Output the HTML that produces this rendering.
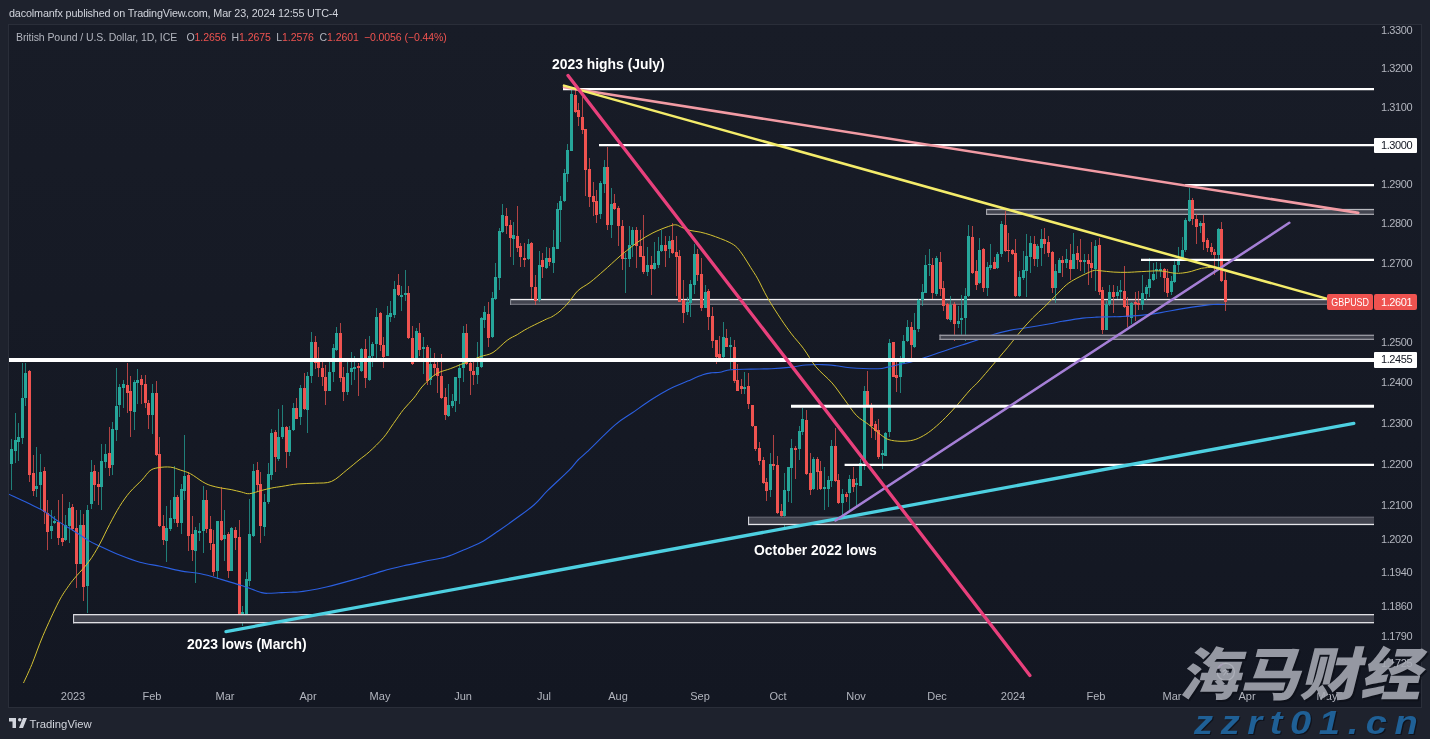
<!DOCTYPE html><html><head><meta charset="utf-8"><title>GBPUSD chart</title><style>
*{margin:0;padding:0;box-sizing:border-box}
html,body{width:1430px;height:739px;overflow:hidden;background:#1e222d}
body{position:relative;font-family:"Liberation Sans","Noto Sans CJK SC",sans-serif;color:#d1d4dc}
#frame{position:absolute;left:8px;top:24px;width:1414px;height:684px;background:linear-gradient(180deg,#181c27 0%,#131722 100%);border:1px solid #2a2e39}
.t{position:absolute;white-space:nowrap;line-height:1}
#pub{left:9px;top:8px;font-size:10.8px;letter-spacing:-0.15px;color:#d1d4dc}
#leg{left:0;top:32px;font-size:10.5px;letter-spacing:-0.08px;color:#b2b5be}
#leg span{position:absolute;top:0}
#leg b{font-weight:normal;color:#ef5350}
.pl{position:absolute;left:1381px;font-size:11px;letter-spacing:-0.4px;color:#b2b5be;line-height:12px;height:12px;white-space:nowrap}
.tlab{position:absolute;top:690px;font-size:11px;color:#b2b5be;line-height:12px;white-space:nowrap;transform:translateX(-50%)}
.tag{position:absolute;height:17px;line-height:17px;font-size:11px;letter-spacing:-0.4px;border-radius:2px;text-align:center;white-space:nowrap}
.wt{background:#ffffff;color:#131722;left:1374px;width:43px;text-align:left;padding-left:7px;border-radius:1px}
.rd{background:#ef5350;color:#ffffff}
.ann{position:absolute;font-weight:bold;font-size:13.9px;color:#ffffff;white-space:nowrap;line-height:16px}
#wm1{position:absolute;left:1175px;top:641px;opacity:0.88;font-family:"Liberation Sans","Noto Sans CJK SC",sans-serif;font-weight:900;font-size:57px;line-height:68px;color:#a7aab4;white-space:nowrap;transform:skewX(-14deg) scaleX(1.06);transform-origin:left bottom;text-shadow:2px 2px 0 #0e111a;letter-spacing:0px}
#wm2{position:absolute;left:1194px;top:702px;font-weight:bold;font-style:italic;font-size:34px;line-height:40px;color:#1f6096;white-space:nowrap;letter-spacing:6.8px;transform:scaleX(1.12);transform-origin:left center;text-shadow:1px 1px 0 #10131c}
#tv{position:absolute;left:29.5px;top:716.5px;font-size:11.3px;line-height:14px;color:#d1d4dc;white-space:nowrap}
</style></head><body>
<div id="frame"></div>
<svg width="1430" height="739" viewBox="0 0 1430 739" style="position:absolute;left:0;top:0"><defs><clipPath id="pane"><rect x="9" y="25" width="1366" height="682"/></clipPath></defs><g clip-path="url(#pane)"><rect x="986.0" y="208.90" width="388.0" height="6.10" fill="#42444f"/><rect x="986.0" y="208.90" width="388.0" height="1.3" fill="#b8b9bf"/><rect x="986.0" y="213.70" width="388.0" height="1.3" fill="#a2a3aa"/><rect x="986.0" y="208.90" width="1.1" height="6.10" fill="#a2a3aa"/><rect x="510.0" y="298.90" width="863.0" height="6.10" fill="#42444f"/><rect x="510.0" y="298.90" width="863.0" height="1.3" fill="#f0f0f2"/><rect x="510.0" y="303.70" width="863.0" height="1.3" fill="#6d6f79"/><rect x="510.0" y="298.90" width="1.1" height="6.10" fill="#8a8c95"/><g shape-rendering="crispEdges"><rect x="11" y="439.3" width="1" height="50.7" fill="#26a69a" opacity="0.72"/><rect x="15" y="412.9" width="1" height="49.7" fill="#26a69a" opacity="0.72"/><rect x="18" y="423.1" width="1" height="37.5" fill="#26a69a" opacity="0.72"/><rect x="22" y="363.2" width="1" height="81.2" fill="#26a69a" opacity="0.72"/><rect x="25" y="363.2" width="1" height="42.6" fill="#26a69a" opacity="0.72"/><rect x="29" y="369.7" width="1" height="112.2" fill="#ef5350" opacity="0.72"/><rect x="33" y="454.5" width="1" height="41.7" fill="#ef5350" opacity="0.72"/><rect x="36" y="447.0" width="1" height="50.3" fill="#26a69a" opacity="0.72"/><rect x="40" y="453.5" width="1" height="55.9" fill="#26a69a" opacity="0.72"/><rect x="44" y="466.7" width="1" height="56.9" fill="#ef5350" opacity="0.72"/><rect x="47" y="500.3" width="1" height="49.7" fill="#ef5350" opacity="0.72"/><rect x="51" y="510.0" width="1" height="28.8" fill="#26a69a" opacity="0.72"/><rect x="54" y="515.5" width="1" height="8.1" fill="#26a69a" opacity="0.72"/><rect x="58" y="500.3" width="1" height="44.6" fill="#ef5350" opacity="0.72"/><rect x="62" y="494.2" width="1" height="51.7" fill="#ef5350" opacity="0.72"/><rect x="65" y="514.5" width="1" height="26.4" fill="#26a69a" opacity="0.72"/><rect x="69" y="501.9" width="1" height="41.0" fill="#26a69a" opacity="0.72"/><rect x="72" y="504.4" width="1" height="26.4" fill="#ef5350" opacity="0.72"/><rect x="76" y="510.4" width="1" height="77.1" fill="#ef5350" opacity="0.72"/><rect x="80" y="510.0" width="1" height="54.2" fill="#26a69a" opacity="0.72"/><rect x="83" y="514.1" width="1" height="86.6" fill="#ef5350" opacity="0.72"/><rect x="87" y="505.4" width="1" height="107.5" fill="#26a69a" opacity="0.72"/><rect x="91" y="459.6" width="1" height="49.8" fill="#26a69a" opacity="0.72"/><rect x="94" y="464.7" width="1" height="36.7" fill="#ef5350" opacity="0.72"/><rect x="98" y="471.8" width="1" height="33.6" fill="#ef5350" opacity="0.72"/><rect x="101" y="444.4" width="1" height="65.7" fill="#26a69a" opacity="0.72"/><rect x="105" y="444.4" width="1" height="23.3" fill="#26a69a" opacity="0.72"/><rect x="109" y="427.1" width="1" height="48.7" fill="#ef5350" opacity="0.72"/><rect x="112" y="422.0" width="1" height="52.8" fill="#26a69a" opacity="0.72"/><rect x="116" y="367.9" width="1" height="72.8" fill="#26a69a" opacity="0.72"/><rect x="119" y="383.5" width="1" height="33.5" fill="#26a69a" opacity="0.72"/><rect x="123" y="380.0" width="1" height="27.8" fill="#26a69a" opacity="0.72"/><rect x="127" y="363.2" width="1" height="49.7" fill="#ef5350" opacity="0.72"/><rect x="130" y="376.4" width="1" height="60.9" fill="#ef5350" opacity="0.72"/><rect x="134" y="380.4" width="1" height="49.7" fill="#26a69a" opacity="0.72"/><rect x="137" y="369.3" width="1" height="34.5" fill="#26a69a" opacity="0.72"/><rect x="141" y="374.8" width="1" height="29.0" fill="#ef5350" opacity="0.72"/><rect x="145" y="375.4" width="1" height="32.5" fill="#ef5350" opacity="0.72"/><rect x="148" y="399.7" width="1" height="29.4" fill="#ef5350" opacity="0.72"/><rect x="152" y="384.1" width="1" height="49.5" fill="#26a69a" opacity="0.72"/><rect x="156" y="380.8" width="1" height="74.7" fill="#ef5350" opacity="0.72"/><rect x="159" y="437.3" width="1" height="89.4" fill="#ef5350" opacity="0.72"/><rect x="163" y="514.5" width="1" height="30.0" fill="#ef5350" opacity="0.72"/><rect x="166" y="506.4" width="1" height="55.8" fill="#26a69a" opacity="0.72"/><rect x="170" y="500.3" width="1" height="30.4" fill="#26a69a" opacity="0.72"/><rect x="174" y="466.1" width="1" height="56.5" fill="#26a69a" opacity="0.72"/><rect x="177" y="495.2" width="1" height="31.5" fill="#ef5350" opacity="0.72"/><rect x="181" y="484.1" width="1" height="49.7" fill="#26a69a" opacity="0.72"/><rect x="184" y="435.2" width="1" height="65.1" fill="#26a69a" opacity="0.72"/><rect x="188" y="471.8" width="1" height="79.3" fill="#ef5350" opacity="0.72"/><rect x="192" y="516.1" width="1" height="45.0" fill="#ef5350" opacity="0.72"/><rect x="195" y="526.7" width="1" height="55.8" fill="#26a69a" opacity="0.72"/><rect x="199" y="523.0" width="1" height="17.9" fill="#26a69a" opacity="0.72"/><rect x="203" y="485.7" width="1" height="67.4" fill="#26a69a" opacity="0.72"/><rect x="206" y="490.1" width="1" height="42.6" fill="#ef5350" opacity="0.72"/><rect x="210" y="515.5" width="1" height="34.5" fill="#ef5350" opacity="0.72"/><rect x="213" y="529.7" width="1" height="46.7" fill="#ef5350" opacity="0.72"/><rect x="217" y="520.6" width="1" height="58.8" fill="#26a69a" opacity="0.72"/><rect x="221" y="487.1" width="1" height="53.8" fill="#ef5350" opacity="0.72"/><rect x="224" y="510.0" width="1" height="51.1" fill="#26a69a" opacity="0.72"/><rect x="228" y="531.7" width="1" height="46.7" fill="#ef5350" opacity="0.72"/><rect x="231" y="527.1" width="1" height="44.2" fill="#26a69a" opacity="0.72"/><rect x="235" y="526.7" width="1" height="23.3" fill="#ef5350" opacity="0.72"/><rect x="239" y="519.6" width="1" height="94.4" fill="#ef5350" opacity="0.72"/><rect x="242" y="605.8" width="1" height="20.3" fill="#26a69a" opacity="0.72"/><rect x="246" y="571.7" width="1" height="42.2" fill="#26a69a" opacity="0.72"/><rect x="249" y="499.3" width="1" height="86.2" fill="#26a69a" opacity="0.72"/><rect x="253" y="463.6" width="1" height="73.2" fill="#26a69a" opacity="0.72"/><rect x="257" y="462.0" width="1" height="30.2" fill="#ef5350" opacity="0.72"/><rect x="260" y="471.8" width="1" height="70.7" fill="#ef5350" opacity="0.72"/><rect x="264" y="494.2" width="1" height="41.6" fill="#26a69a" opacity="0.72"/><rect x="268" y="463.2" width="1" height="41.1" fill="#26a69a" opacity="0.72"/><rect x="271" y="429.1" width="1" height="50.7" fill="#26a69a" opacity="0.72"/><rect x="275" y="430.2" width="1" height="41.6" fill="#ef5350" opacity="0.72"/><rect x="278" y="408.8" width="1" height="51.7" fill="#26a69a" opacity="0.72"/><rect x="282" y="404.8" width="1" height="34.5" fill="#26a69a" opacity="0.72"/><rect x="286" y="425.5" width="1" height="42.2" fill="#ef5350" opacity="0.72"/><rect x="289" y="426.1" width="1" height="29.4" fill="#26a69a" opacity="0.72"/><rect x="293" y="403.2" width="1" height="28.0" fill="#26a69a" opacity="0.72"/><rect x="296" y="398.1" width="1" height="21.3" fill="#ef5350" opacity="0.72"/><rect x="300" y="384.9" width="1" height="39.6" fill="#26a69a" opacity="0.72"/><rect x="304" y="373.2" width="1" height="37.1" fill="#ef5350" opacity="0.72"/><rect x="307" y="371.7" width="1" height="61.5" fill="#26a69a" opacity="0.72"/><rect x="311" y="332.2" width="1" height="51.1" fill="#26a69a" opacity="0.72"/><rect x="315" y="335.8" width="1" height="32.9" fill="#ef5350" opacity="0.72"/><rect x="318" y="346.8" width="1" height="30.0" fill="#ef5350" opacity="0.72"/><rect x="322" y="361.6" width="1" height="24.4" fill="#ef5350" opacity="0.72"/><rect x="325" y="365.0" width="1" height="39.8" fill="#ef5350" opacity="0.72"/><rect x="329" y="361.6" width="1" height="29.4" fill="#26a69a" opacity="0.72"/><rect x="333" y="343.9" width="1" height="37.9" fill="#26a69a" opacity="0.72"/><rect x="336" y="327.0" width="1" height="23.5" fill="#26a69a" opacity="0.72"/><rect x="340" y="322.9" width="1" height="59.0" fill="#ef5350" opacity="0.72"/><rect x="343" y="367.1" width="1" height="33.7" fill="#ef5350" opacity="0.72"/><rect x="347" y="361.6" width="1" height="33.5" fill="#26a69a" opacity="0.72"/><rect x="351" y="352.1" width="1" height="32.9" fill="#26a69a" opacity="0.72"/><rect x="354" y="355.5" width="1" height="24.4" fill="#26a69a" opacity="0.72"/><rect x="358" y="362.6" width="1" height="33.5" fill="#ef5350" opacity="0.72"/><rect x="361" y="348.4" width="1" height="23.3" fill="#26a69a" opacity="0.72"/><rect x="365" y="339.3" width="1" height="48.7" fill="#ef5350" opacity="0.72"/><rect x="369" y="336.2" width="1" height="44.6" fill="#26a69a" opacity="0.72"/><rect x="372" y="341.9" width="1" height="24.8" fill="#26a69a" opacity="0.72"/><rect x="376" y="308.1" width="1" height="49.4" fill="#26a69a" opacity="0.72"/><rect x="380" y="311.8" width="1" height="38.7" fill="#ef5350" opacity="0.72"/><rect x="383" y="337.2" width="1" height="30.4" fill="#ef5350" opacity="0.72"/><rect x="387" y="306.1" width="1" height="50.0" fill="#26a69a" opacity="0.72"/><rect x="390" y="301.2" width="1" height="20.7" fill="#26a69a" opacity="0.72"/><rect x="394" y="280.9" width="1" height="36.9" fill="#26a69a" opacity="0.72"/><rect x="398" y="274.2" width="1" height="21.3" fill="#ef5350" opacity="0.72"/><rect x="401" y="286.4" width="1" height="24.4" fill="#26a69a" opacity="0.72"/><rect x="405" y="270.2" width="1" height="31.0" fill="#26a69a" opacity="0.72"/><rect x="408" y="285.8" width="1" height="53.4" fill="#ef5350" opacity="0.72"/><rect x="412" y="325.6" width="1" height="39.1" fill="#ef5350" opacity="0.72"/><rect x="416" y="328.0" width="1" height="31.0" fill="#26a69a" opacity="0.72"/><rect x="419" y="322.9" width="1" height="32.6" fill="#ef5350" opacity="0.72"/><rect x="423" y="337.1" width="1" height="36.7" fill="#26a69a" opacity="0.72"/><rect x="427" y="345.4" width="1" height="40.0" fill="#ef5350" opacity="0.72"/><rect x="430" y="348.4" width="1" height="36.5" fill="#26a69a" opacity="0.72"/><rect x="434" y="352.5" width="1" height="23.3" fill="#ef5350" opacity="0.72"/><rect x="437" y="358.1" width="1" height="34.9" fill="#ef5350" opacity="0.72"/><rect x="441" y="354.1" width="1" height="45.0" fill="#ef5350" opacity="0.72"/><rect x="445" y="388.0" width="1" height="31.9" fill="#ef5350" opacity="0.72"/><rect x="448" y="383.9" width="1" height="33.5" fill="#26a69a" opacity="0.72"/><rect x="452" y="393.5" width="1" height="14.8" fill="#26a69a" opacity="0.72"/><rect x="455" y="376.8" width="1" height="34.9" fill="#26a69a" opacity="0.72"/><rect x="459" y="363.6" width="1" height="40.0" fill="#26a69a" opacity="0.72"/><rect x="463" y="326.0" width="1" height="55.9" fill="#26a69a" opacity="0.72"/><rect x="466" y="323.9" width="1" height="41.1" fill="#ef5350" opacity="0.72"/><rect x="470" y="362.2" width="1" height="32.9" fill="#ef5350" opacity="0.72"/><rect x="473" y="362.2" width="1" height="22.7" fill="#ef5350" opacity="0.72"/><rect x="477" y="341.9" width="1" height="42.0" fill="#26a69a" opacity="0.72"/><rect x="481" y="316.8" width="1" height="50.9" fill="#26a69a" opacity="0.72"/><rect x="484" y="306.1" width="1" height="21.9" fill="#26a69a" opacity="0.72"/><rect x="488" y="302.0" width="1" height="44.8" fill="#ef5350" opacity="0.72"/><rect x="492" y="291.9" width="1" height="46.3" fill="#26a69a" opacity="0.72"/><rect x="495" y="263.1" width="1" height="36.5" fill="#26a69a" opacity="0.72"/><rect x="499" y="227.5" width="1" height="62.3" fill="#26a69a" opacity="0.72"/><rect x="502" y="203.8" width="1" height="28.8" fill="#26a69a" opacity="0.72"/><rect x="506" y="207.9" width="1" height="26.4" fill="#ef5350" opacity="0.72"/><rect x="510" y="220.4" width="1" height="36.5" fill="#ef5350" opacity="0.72"/><rect x="513" y="222.1" width="1" height="43.0" fill="#26a69a" opacity="0.72"/><rect x="517" y="205.8" width="1" height="46.1" fill="#ef5350" opacity="0.72"/><rect x="520" y="243.2" width="1" height="23.9" fill="#ef5350" opacity="0.72"/><rect x="524" y="243.2" width="1" height="23.9" fill="#ef5350" opacity="0.72"/><rect x="528" y="238.7" width="1" height="21.3" fill="#26a69a" opacity="0.72"/><rect x="531" y="241.7" width="1" height="56.8" fill="#ef5350" opacity="0.72"/><rect x="535" y="275.2" width="1" height="29.4" fill="#ef5350" opacity="0.72"/><rect x="539" y="250.9" width="1" height="51.1" fill="#26a69a" opacity="0.72"/><rect x="542" y="253.3" width="1" height="25.0" fill="#ef5350" opacity="0.72"/><rect x="546" y="247.2" width="1" height="21.9" fill="#26a69a" opacity="0.72"/><rect x="549" y="247.8" width="1" height="18.3" fill="#ef5350" opacity="0.72"/><rect x="553" y="230.4" width="1" height="42.6" fill="#26a69a" opacity="0.72"/><rect x="557" y="202.9" width="1" height="46.3" fill="#26a69a" opacity="0.72"/><rect x="560" y="195.8" width="1" height="45.9" fill="#26a69a" opacity="0.72"/><rect x="564" y="169.4" width="1" height="32.5" fill="#26a69a" opacity="0.72"/><rect x="567" y="144.1" width="1" height="37.5" fill="#26a69a" opacity="0.72"/><rect x="571" y="90.3" width="1" height="60.9" fill="#26a69a" opacity="0.72"/><rect x="575" y="89.3" width="1" height="23.3" fill="#ef5350" opacity="0.72"/><rect x="578" y="102.5" width="1" height="23.3" fill="#ef5350" opacity="0.72"/><rect x="582" y="97.4" width="1" height="36.5" fill="#ef5350" opacity="0.72"/><rect x="585" y="128.8" width="1" height="67.0" fill="#ef5350" opacity="0.72"/><rect x="589" y="157.7" width="1" height="49.3" fill="#ef5350" opacity="0.72"/><rect x="593" y="181.6" width="1" height="34.5" fill="#ef5350" opacity="0.72"/><rect x="596" y="189.7" width="1" height="33.6" fill="#ef5350" opacity="0.72"/><rect x="600" y="181.2" width="1" height="38.1" fill="#26a69a" opacity="0.72"/><rect x="604" y="159.7" width="1" height="33.1" fill="#26a69a" opacity="0.72"/><rect x="607" y="146.7" width="1" height="83.3" fill="#ef5350" opacity="0.72"/><rect x="611" y="187.7" width="1" height="50.5" fill="#26a69a" opacity="0.72"/><rect x="614" y="193.8" width="1" height="16.4" fill="#ef5350" opacity="0.72"/><rect x="618" y="205.7" width="1" height="40.0" fill="#ef5350" opacity="0.72"/><rect x="622" y="220.3" width="1" height="49.7" fill="#ef5350" opacity="0.72"/><rect x="625" y="253.2" width="1" height="40.2" fill="#26a69a" opacity="0.72"/><rect x="629" y="226.0" width="1" height="41.0" fill="#26a69a" opacity="0.72"/><rect x="632" y="227.4" width="1" height="29.4" fill="#26a69a" opacity="0.72"/><rect x="636" y="226.8" width="1" height="41.2" fill="#ef5350" opacity="0.72"/><rect x="640" y="230.0" width="1" height="26.8" fill="#ef5350" opacity="0.72"/><rect x="643" y="214.6" width="1" height="59.5" fill="#ef5350" opacity="0.72"/><rect x="647" y="247.1" width="1" height="28.4" fill="#26a69a" opacity="0.72"/><rect x="651" y="256.4" width="1" height="38.6" fill="#ef5350" opacity="0.72"/><rect x="654" y="242.2" width="1" height="27.8" fill="#26a69a" opacity="0.72"/><rect x="658" y="236.5" width="1" height="31.5" fill="#26a69a" opacity="0.72"/><rect x="661" y="230.4" width="1" height="21.3" fill="#26a69a" opacity="0.72"/><rect x="665" y="236.1" width="1" height="30.4" fill="#ef5350" opacity="0.72"/><rect x="669" y="236.1" width="1" height="21.7" fill="#26a69a" opacity="0.72"/><rect x="672" y="223.3" width="1" height="31.0" fill="#ef5350" opacity="0.72"/><rect x="676" y="236.1" width="1" height="60.3" fill="#ef5350" opacity="0.72"/><rect x="679" y="250.3" width="1" height="51.5" fill="#ef5350" opacity="0.72"/><rect x="683" y="280.2" width="1" height="42.6" fill="#ef5350" opacity="0.72"/><rect x="687" y="297.4" width="1" height="17.2" fill="#26a69a" opacity="0.72"/><rect x="690" y="280.2" width="1" height="36.5" fill="#26a69a" opacity="0.72"/><rect x="694" y="244.2" width="1" height="50.1" fill="#26a69a" opacity="0.72"/><rect x="697" y="248.7" width="1" height="32.5" fill="#ef5350" opacity="0.72"/><rect x="701" y="257.8" width="1" height="52.8" fill="#ef5350" opacity="0.72"/><rect x="705" y="285.2" width="1" height="22.7" fill="#26a69a" opacity="0.72"/><rect x="708" y="289.3" width="1" height="40.6" fill="#ef5350" opacity="0.72"/><rect x="712" y="306.5" width="1" height="41.9" fill="#ef5350" opacity="0.72"/><rect x="716" y="339.9" width="1" height="23.7" fill="#ef5350" opacity="0.72"/><rect x="719" y="335.8" width="1" height="22.7" fill="#ef5350" opacity="0.72"/><rect x="723" y="322.4" width="1" height="35.1" fill="#26a69a" opacity="0.72"/><rect x="726" y="329.1" width="1" height="18.3" fill="#ef5350" opacity="0.72"/><rect x="730" y="337.2" width="1" height="31.5" fill="#26a69a" opacity="0.72"/><rect x="734" y="339.9" width="1" height="43.0" fill="#ef5350" opacity="0.72"/><rect x="737" y="363.6" width="1" height="27.8" fill="#ef5350" opacity="0.72"/><rect x="741" y="378.8" width="1" height="15.2" fill="#ef5350" opacity="0.72"/><rect x="744" y="372.4" width="1" height="21.7" fill="#26a69a" opacity="0.72"/><rect x="748" y="373.2" width="1" height="36.0" fill="#ef5350" opacity="0.72"/><rect x="752" y="404.5" width="1" height="22.9" fill="#ef5350" opacity="0.72"/><rect x="755" y="426.0" width="1" height="24.8" fill="#ef5350" opacity="0.72"/><rect x="759" y="442.2" width="1" height="23.1" fill="#ef5350" opacity="0.72"/><rect x="763" y="456.8" width="1" height="26.8" fill="#ef5350" opacity="0.72"/><rect x="766" y="478.1" width="1" height="22.9" fill="#ef5350" opacity="0.72"/><rect x="770" y="453.2" width="1" height="43.8" fill="#26a69a" opacity="0.72"/><rect x="773" y="434.5" width="1" height="35.5" fill="#ef5350" opacity="0.72"/><rect x="777" y="455.8" width="1" height="57.8" fill="#ef5350" opacity="0.72"/><rect x="781" y="503.5" width="1" height="20.7" fill="#ef5350" opacity="0.72"/><rect x="784" y="473.1" width="1" height="53.8" fill="#26a69a" opacity="0.72"/><rect x="788" y="466.6" width="1" height="34.9" fill="#26a69a" opacity="0.72"/><rect x="791" y="439.0" width="1" height="63.5" fill="#26a69a" opacity="0.72"/><rect x="795" y="445.7" width="1" height="33.5" fill="#ef5350" opacity="0.72"/><rect x="799" y="426.0" width="1" height="33.9" fill="#26a69a" opacity="0.72"/><rect x="802" y="408.1" width="1" height="26.4" fill="#26a69a" opacity="0.72"/><rect x="806" y="410.1" width="1" height="64.9" fill="#ef5350" opacity="0.72"/><rect x="810" y="453.2" width="1" height="42.2" fill="#ef5350" opacity="0.72"/><rect x="813" y="456.8" width="1" height="32.9" fill="#26a69a" opacity="0.72"/><rect x="817" y="456.8" width="1" height="33.5" fill="#ef5350" opacity="0.72"/><rect x="820" y="460.5" width="1" height="29.8" fill="#ef5350" opacity="0.72"/><rect x="824" y="467.4" width="1" height="42.6" fill="#26a69a" opacity="0.72"/><rect x="828" y="476.1" width="1" height="30.4" fill="#26a69a" opacity="0.72"/><rect x="831" y="440.2" width="1" height="46.7" fill="#26a69a" opacity="0.72"/><rect x="835" y="428.0" width="1" height="54.2" fill="#ef5350" opacity="0.72"/><rect x="838" y="474.1" width="1" height="29.4" fill="#ef5350" opacity="0.72"/><rect x="842" y="488.9" width="1" height="26.8" fill="#26a69a" opacity="0.72"/><rect x="846" y="492.3" width="1" height="10.1" fill="#ef5350" opacity="0.72"/><rect x="849" y="474.7" width="1" height="36.5" fill="#26a69a" opacity="0.72"/><rect x="853" y="467.0" width="1" height="25.4" fill="#ef5350" opacity="0.72"/><rect x="856" y="478.1" width="1" height="28.4" fill="#26a69a" opacity="0.72"/><rect x="860" y="458.8" width="1" height="27.4" fill="#26a69a" opacity="0.72"/><rect x="864" y="385.9" width="1" height="84.1" fill="#26a69a" opacity="0.72"/><rect x="867" y="371.1" width="1" height="35.1" fill="#ef5350" opacity="0.72"/><rect x="871" y="402.8" width="1" height="34.9" fill="#ef5350" opacity="0.72"/><rect x="875" y="421.1" width="1" height="18.7" fill="#ef5350" opacity="0.72"/><rect x="878" y="419.0" width="1" height="40.0" fill="#ef5350" opacity="0.72"/><rect x="882" y="449.9" width="1" height="19.3" fill="#26a69a" opacity="0.72"/><rect x="885" y="431.6" width="1" height="24.4" fill="#26a69a" opacity="0.72"/><rect x="889" y="339.3" width="1" height="98.0" fill="#26a69a" opacity="0.72"/><rect x="893" y="341.9" width="1" height="35.3" fill="#ef5350" opacity="0.72"/><rect x="896" y="361.6" width="1" height="30.4" fill="#ef5350" opacity="0.72"/><rect x="900" y="356.1" width="1" height="36.9" fill="#26a69a" opacity="0.72"/><rect x="903" y="335.2" width="1" height="27.8" fill="#26a69a" opacity="0.72"/><rect x="907" y="320.0" width="1" height="21.9" fill="#26a69a" opacity="0.72"/><rect x="911" y="321.6" width="1" height="36.9" fill="#ef5350" opacity="0.72"/><rect x="914" y="312.6" width="1" height="35.1" fill="#26a69a" opacity="0.72"/><rect x="918" y="299.0" width="1" height="32.9" fill="#26a69a" opacity="0.72"/><rect x="922" y="284.2" width="1" height="21.3" fill="#26a69a" opacity="0.72"/><rect x="925" y="255.2" width="1" height="38.1" fill="#26a69a" opacity="0.72"/><rect x="929" y="248.7" width="1" height="27.4" fill="#26a69a" opacity="0.72"/><rect x="932" y="258.4" width="1" height="41.0" fill="#ef5350" opacity="0.72"/><rect x="936" y="255.8" width="1" height="40.6" fill="#26a69a" opacity="0.72"/><rect x="940" y="251.7" width="1" height="44.6" fill="#ef5350" opacity="0.72"/><rect x="943" y="280.8" width="1" height="29.8" fill="#ef5350" opacity="0.72"/><rect x="947" y="302.5" width="1" height="17.2" fill="#ef5350" opacity="0.72"/><rect x="950" y="296.4" width="1" height="25.4" fill="#26a69a" opacity="0.72"/><rect x="954" y="301.9" width="1" height="38.6" fill="#ef5350" opacity="0.72"/><rect x="958" y="305.5" width="1" height="22.3" fill="#26a69a" opacity="0.72"/><rect x="961" y="295.0" width="1" height="40.0" fill="#26a69a" opacity="0.72"/><rect x="965" y="288.3" width="1" height="52.8" fill="#26a69a" opacity="0.72"/><rect x="968" y="224.8" width="1" height="72.6" fill="#26a69a" opacity="0.72"/><rect x="972" y="226.4" width="1" height="47.7" fill="#ef5350" opacity="0.72"/><rect x="976" y="259.9" width="1" height="30.4" fill="#ef5350" opacity="0.72"/><rect x="979" y="237.5" width="1" height="46.1" fill="#26a69a" opacity="0.72"/><rect x="983" y="247.7" width="1" height="44.6" fill="#ef5350" opacity="0.72"/><rect x="987" y="261.9" width="1" height="34.5" fill="#26a69a" opacity="0.72"/><rect x="990" y="244.2" width="1" height="25.8" fill="#26a69a" opacity="0.72"/><rect x="994" y="256.8" width="1" height="12.6" fill="#ef5350" opacity="0.72"/><rect x="997" y="251.7" width="1" height="16.8" fill="#26a69a" opacity="0.72"/><rect x="1001" y="221.3" width="1" height="35.5" fill="#26a69a" opacity="0.72"/><rect x="1005" y="211.2" width="1" height="40.6" fill="#ef5350" opacity="0.72"/><rect x="1008" y="232.9" width="1" height="29.0" fill="#ef5350" opacity="0.72"/><rect x="1012" y="248.7" width="1" height="6.1" fill="#ef5350" opacity="0.72"/><rect x="1015" y="238.6" width="1" height="58.8" fill="#ef5350" opacity="0.72"/><rect x="1019" y="271.0" width="1" height="26.0" fill="#26a69a" opacity="0.72"/><rect x="1023" y="250.7" width="1" height="29.4" fill="#26a69a" opacity="0.72"/><rect x="1026" y="234.1" width="1" height="63.3" fill="#26a69a" opacity="0.72"/><rect x="1030" y="236.1" width="1" height="36.9" fill="#26a69a" opacity="0.72"/><rect x="1034" y="235.5" width="1" height="30.4" fill="#ef5350" opacity="0.72"/><rect x="1037" y="244.2" width="1" height="22.7" fill="#26a69a" opacity="0.72"/><rect x="1041" y="228.8" width="1" height="37.1" fill="#26a69a" opacity="0.72"/><rect x="1044" y="228.4" width="1" height="25.4" fill="#ef5350" opacity="0.72"/><rect x="1048" y="236.1" width="1" height="20.7" fill="#ef5350" opacity="0.72"/><rect x="1052" y="250.7" width="1" height="42.6" fill="#ef5350" opacity="0.72"/><rect x="1055" y="263.9" width="1" height="38.6" fill="#26a69a" opacity="0.72"/><rect x="1059" y="257.8" width="1" height="15.6" fill="#26a69a" opacity="0.72"/><rect x="1062" y="255.8" width="1" height="21.3" fill="#ef5350" opacity="0.72"/><rect x="1066" y="248.7" width="1" height="19.3" fill="#26a69a" opacity="0.72"/><rect x="1070" y="243.6" width="1" height="36.5" fill="#ef5350" opacity="0.72"/><rect x="1073" y="232.9" width="1" height="36.5" fill="#26a69a" opacity="0.72"/><rect x="1077" y="245.7" width="1" height="23.3" fill="#ef5350" opacity="0.72"/><rect x="1080" y="239.0" width="1" height="32.1" fill="#ef5350" opacity="0.72"/><rect x="1084" y="253.8" width="1" height="19.3" fill="#26a69a" opacity="0.72"/><rect x="1088" y="253.8" width="1" height="31.5" fill="#ef5350" opacity="0.72"/><rect x="1091" y="242.2" width="1" height="35.9" fill="#ef5350" opacity="0.72"/><rect x="1095" y="240.2" width="1" height="51.1" fill="#26a69a" opacity="0.72"/><rect x="1099" y="237.5" width="1" height="57.8" fill="#ef5350" opacity="0.72"/><rect x="1102" y="287.3" width="1" height="46.7" fill="#ef5350" opacity="0.72"/><rect x="1106" y="301.1" width="1" height="29.2" fill="#26a69a" opacity="0.72"/><rect x="1109" y="285.2" width="1" height="20.3" fill="#26a69a" opacity="0.72"/><rect x="1113" y="285.2" width="1" height="28.0" fill="#ef5350" opacity="0.72"/><rect x="1117" y="286.2" width="1" height="13.2" fill="#26a69a" opacity="0.72"/><rect x="1120" y="279.5" width="1" height="19.9" fill="#26a69a" opacity="0.72"/><rect x="1124" y="265.9" width="1" height="41.6" fill="#ef5350" opacity="0.72"/><rect x="1127" y="297.0" width="1" height="29.8" fill="#ef5350" opacity="0.72"/><rect x="1131" y="301.5" width="1" height="22.7" fill="#26a69a" opacity="0.72"/><rect x="1135" y="292.3" width="1" height="29.0" fill="#ef5350" opacity="0.72"/><rect x="1138" y="290.9" width="1" height="18.7" fill="#ef5350" opacity="0.72"/><rect x="1142" y="274.7" width="1" height="34.9" fill="#26a69a" opacity="0.72"/><rect x="1146" y="285.2" width="1" height="15.2" fill="#26a69a" opacity="0.72"/><rect x="1149" y="258.4" width="1" height="38.6" fill="#26a69a" opacity="0.72"/><rect x="1153" y="262.5" width="1" height="18.7" fill="#26a69a" opacity="0.72"/><rect x="1156" y="261.9" width="1" height="16.8" fill="#26a69a" opacity="0.72"/><rect x="1160" y="263.3" width="1" height="13.8" fill="#26a69a" opacity="0.72"/><rect x="1164" y="268.0" width="1" height="24.4" fill="#ef5350" opacity="0.72"/><rect x="1167" y="269.4" width="1" height="27.6" fill="#ef5350" opacity="0.72"/><rect x="1171" y="276.1" width="1" height="19.3" fill="#26a69a" opacity="0.72"/><rect x="1174" y="260.9" width="1" height="21.9" fill="#26a69a" opacity="0.72"/><rect x="1178" y="247.0" width="1" height="25.4" fill="#26a69a" opacity="0.72"/><rect x="1182" y="236.9" width="1" height="24.4" fill="#26a69a" opacity="0.72"/><rect x="1185" y="218.0" width="1" height="33.7" fill="#26a69a" opacity="0.72"/><rect x="1189" y="187.6" width="1" height="34.5" fill="#26a69a" opacity="0.72"/><rect x="1192" y="197.7" width="1" height="27.0" fill="#ef5350" opacity="0.72"/><rect x="1196" y="213.6" width="1" height="30.8" fill="#ef5350" opacity="0.72"/><rect x="1200" y="220.7" width="1" height="12.2" fill="#26a69a" opacity="0.72"/><rect x="1203" y="214.6" width="1" height="35.1" fill="#ef5350" opacity="0.72"/><rect x="1207" y="238.3" width="1" height="13.8" fill="#ef5350" opacity="0.72"/><rect x="1211" y="243.0" width="1" height="12.2" fill="#ef5350" opacity="0.72"/><rect x="1214" y="249.1" width="1" height="25.8" fill="#ef5350" opacity="0.72"/><rect x="1218" y="227.8" width="1" height="42.6" fill="#26a69a" opacity="0.72"/><rect x="1221" y="221.7" width="1" height="59.9" fill="#ef5350" opacity="0.72"/><rect x="1225" y="272.0" width="1" height="39.4" fill="#ef5350" opacity="0.72"/><rect x="10" y="449.4" width="3" height="14.2" fill="#26a69a"/><rect x="14" y="440.3" width="3" height="10.6" fill="#26a69a"/><rect x="17" y="436.9" width="3" height="4.9" fill="#26a69a"/><rect x="21" y="397.7" width="3" height="40.6" fill="#26a69a"/><rect x="24" y="372.7" width="3" height="25.4" fill="#26a69a"/><rect x="28" y="371.3" width="3" height="103.5" fill="#ef5350"/><rect x="32" y="472.8" width="3" height="18.4" fill="#ef5350"/><rect x="35" y="485.6" width="3" height="3.4" fill="#26a69a"/><rect x="39" y="471.8" width="3" height="13.2" fill="#26a69a"/><rect x="43" y="471.3" width="3" height="41.1" fill="#ef5350"/><rect x="46" y="512.5" width="3" height="19.3" fill="#ef5350"/><rect x="50" y="525.7" width="3" height="5.1" fill="#26a69a"/><rect x="53" y="521.2" width="3" height="1.8" fill="#26a69a"/><rect x="57" y="521.6" width="3" height="16.2" fill="#ef5350"/><rect x="61" y="537.8" width="3" height="4.1" fill="#ef5350"/><rect x="64" y="525.0" width="3" height="14.8" fill="#26a69a"/><rect x="68" y="508.0" width="3" height="17.7" fill="#26a69a"/><rect x="71" y="506.8" width="3" height="21.9" fill="#ef5350"/><rect x="75" y="528.3" width="3" height="35.3" fill="#ef5350"/><rect x="79" y="525.0" width="3" height="38.6" fill="#26a69a"/><rect x="82" y="525.0" width="3" height="61.5" fill="#ef5350"/><rect x="86" y="510.0" width="3" height="75.5" fill="#26a69a"/><rect x="90" y="472.4" width="3" height="32.0" fill="#26a69a"/><rect x="93" y="470.7" width="3" height="14.2" fill="#ef5350"/><rect x="97" y="483.9" width="3" height="3.0" fill="#ef5350"/><rect x="100" y="460.6" width="3" height="26.4" fill="#26a69a"/><rect x="104" y="453.9" width="3" height="8.1" fill="#26a69a"/><rect x="108" y="452.9" width="3" height="14.8" fill="#ef5350"/><rect x="111" y="428.7" width="3" height="36.5" fill="#26a69a"/><rect x="115" y="405.8" width="3" height="24.4" fill="#26a69a"/><rect x="118" y="386.9" width="3" height="18.3" fill="#26a69a"/><rect x="122" y="383.9" width="3" height="4.1" fill="#26a69a"/><rect x="126" y="384.9" width="3" height="8.1" fill="#ef5350"/><rect x="129" y="390.6" width="3" height="20.3" fill="#ef5350"/><rect x="133" y="381.5" width="3" height="30.4" fill="#26a69a"/><rect x="136" y="380.0" width="3" height="2.8" fill="#26a69a"/><rect x="140" y="379.0" width="3" height="5.9" fill="#ef5350"/><rect x="144" y="383.5" width="3" height="19.7" fill="#ef5350"/><rect x="147" y="402.8" width="3" height="12.2" fill="#ef5350"/><rect x="151" y="392.6" width="3" height="22.3" fill="#26a69a"/><rect x="155" y="392.6" width="3" height="61.9" fill="#ef5350"/><rect x="158" y="453.9" width="3" height="71.8" fill="#ef5350"/><rect x="162" y="525.7" width="3" height="14.2" fill="#ef5350"/><rect x="165" y="527.7" width="3" height="13.2" fill="#26a69a"/><rect x="169" y="517.5" width="3" height="11.2" fill="#26a69a"/><rect x="173" y="497.2" width="3" height="21.3" fill="#26a69a"/><rect x="176" y="497.2" width="3" height="25.8" fill="#ef5350"/><rect x="180" y="489.1" width="3" height="33.9" fill="#26a69a"/><rect x="183" y="475.8" width="3" height="15.3" fill="#26a69a"/><rect x="187" y="475.4" width="3" height="60.4" fill="#ef5350"/><rect x="191" y="533.8" width="3" height="16.2" fill="#ef5350"/><rect x="194" y="529.7" width="3" height="20.9" fill="#26a69a"/><rect x="198" y="531.1" width="3" height="1.6" fill="#26a69a"/><rect x="202" y="499.9" width="3" height="30.8" fill="#26a69a"/><rect x="205" y="500.3" width="3" height="28.4" fill="#ef5350"/><rect x="209" y="529.3" width="3" height="14.0" fill="#ef5350"/><rect x="212" y="543.9" width="3" height="28.4" fill="#ef5350"/><rect x="216" y="521.0" width="3" height="49.9" fill="#26a69a"/><rect x="220" y="520.6" width="3" height="19.3" fill="#ef5350"/><rect x="223" y="535.2" width="3" height="3.7" fill="#26a69a"/><rect x="227" y="533.8" width="3" height="37.1" fill="#ef5350"/><rect x="230" y="528.3" width="3" height="42.6" fill="#26a69a"/><rect x="234" y="529.7" width="3" height="8.1" fill="#ef5350"/><rect x="238" y="536.8" width="3" height="77.1" fill="#ef5350"/><rect x="241" y="611.9" width="3" height="1.6" fill="#26a69a"/><rect x="245" y="579.0" width="3" height="34.9" fill="#26a69a"/><rect x="248" y="533.8" width="3" height="46.7" fill="#26a69a"/><rect x="252" y="470.7" width="3" height="65.1" fill="#26a69a"/><rect x="256" y="469.7" width="3" height="15.3" fill="#ef5350"/><rect x="259" y="483.7" width="3" height="42.6" fill="#ef5350"/><rect x="263" y="501.9" width="3" height="25.2" fill="#26a69a"/><rect x="267" y="474.2" width="3" height="28.1" fill="#26a69a"/><rect x="270" y="432.8" width="3" height="42.0" fill="#26a69a"/><rect x="274" y="432.2" width="3" height="25.0" fill="#ef5350"/><rect x="277" y="436.9" width="3" height="22.1" fill="#26a69a"/><rect x="281" y="427.1" width="3" height="10.1" fill="#26a69a"/><rect x="285" y="426.7" width="3" height="25.2" fill="#ef5350"/><rect x="288" y="430.2" width="3" height="21.7" fill="#26a69a"/><rect x="292" y="407.8" width="3" height="21.9" fill="#26a69a"/><rect x="295" y="407.9" width="3" height="11.2" fill="#ef5350"/><rect x="299" y="388.0" width="3" height="29.4" fill="#26a69a"/><rect x="303" y="388.0" width="3" height="21.3" fill="#ef5350"/><rect x="306" y="375.8" width="3" height="33.9" fill="#26a69a"/><rect x="310" y="342.3" width="3" height="34.1" fill="#26a69a"/><rect x="314" y="342.3" width="3" height="20.3" fill="#ef5350"/><rect x="317" y="361.6" width="3" height="6.5" fill="#ef5350"/><rect x="321" y="367.7" width="3" height="9.1" fill="#ef5350"/><rect x="324" y="376.8" width="3" height="13.8" fill="#ef5350"/><rect x="328" y="371.7" width="3" height="18.9" fill="#26a69a"/><rect x="332" y="348.0" width="3" height="24.4" fill="#26a69a"/><rect x="335" y="332.7" width="3" height="16.8" fill="#26a69a"/><rect x="339" y="332.7" width="3" height="45.2" fill="#ef5350"/><rect x="342" y="376.8" width="3" height="15.2" fill="#ef5350"/><rect x="346" y="372.8" width="3" height="19.3" fill="#26a69a"/><rect x="350" y="367.7" width="3" height="4.7" fill="#26a69a"/><rect x="353" y="366.7" width="3" height="2.0" fill="#26a69a"/><rect x="357" y="366.3" width="3" height="2.0" fill="#ef5350"/><rect x="360" y="348.8" width="3" height="21.9" fill="#26a69a"/><rect x="364" y="348.8" width="3" height="29.6" fill="#ef5350"/><rect x="368" y="355.5" width="3" height="24.4" fill="#26a69a"/><rect x="371" y="343.9" width="3" height="12.2" fill="#26a69a"/><rect x="375" y="316.8" width="3" height="27.1" fill="#26a69a"/><rect x="379" y="312.8" width="3" height="32.6" fill="#ef5350"/><rect x="382" y="344.8" width="3" height="11.8" fill="#ef5350"/><rect x="386" y="314.8" width="3" height="40.7" fill="#26a69a"/><rect x="389" y="312.8" width="3" height="4.1" fill="#26a69a"/><rect x="393" y="289.4" width="3" height="25.4" fill="#26a69a"/><rect x="397" y="285.4" width="3" height="9.7" fill="#ef5350"/><rect x="400" y="295.1" width="3" height="1.6" fill="#26a69a"/><rect x="404" y="293.1" width="3" height="1.6" fill="#26a69a"/><rect x="407" y="292.7" width="3" height="45.0" fill="#ef5350"/><rect x="411" y="337.7" width="3" height="25.9" fill="#ef5350"/><rect x="415" y="331.0" width="3" height="27.5" fill="#26a69a"/><rect x="418" y="332.5" width="3" height="17.6" fill="#ef5350"/><rect x="422" y="347.4" width="3" height="2.0" fill="#26a69a"/><rect x="426" y="347.0" width="3" height="33.9" fill="#ef5350"/><rect x="429" y="363.6" width="3" height="16.8" fill="#26a69a"/><rect x="433" y="364.2" width="3" height="4.1" fill="#ef5350"/><rect x="436" y="368.1" width="3" height="8.3" fill="#ef5350"/><rect x="440" y="375.8" width="3" height="22.3" fill="#ef5350"/><rect x="444" y="397.1" width="3" height="17.9" fill="#ef5350"/><rect x="447" y="405.2" width="3" height="10.6" fill="#26a69a"/><rect x="451" y="400.8" width="3" height="4.9" fill="#26a69a"/><rect x="454" y="377.2" width="3" height="23.9" fill="#26a69a"/><rect x="458" y="367.7" width="3" height="10.1" fill="#26a69a"/><rect x="462" y="333.1" width="3" height="34.6" fill="#26a69a"/><rect x="465" y="332.5" width="3" height="31.2" fill="#ef5350"/><rect x="469" y="362.6" width="3" height="8.1" fill="#ef5350"/><rect x="472" y="370.7" width="3" height="4.5" fill="#ef5350"/><rect x="476" y="367.1" width="3" height="8.1" fill="#26a69a"/><rect x="480" y="318.2" width="3" height="48.4" fill="#26a69a"/><rect x="483" y="311.8" width="3" height="8.1" fill="#26a69a"/><rect x="487" y="314.2" width="3" height="23.5" fill="#ef5350"/><rect x="491" y="298.0" width="3" height="39.2" fill="#26a69a"/><rect x="494" y="276.9" width="3" height="21.7" fill="#26a69a"/><rect x="498" y="230.6" width="3" height="47.1" fill="#26a69a"/><rect x="501" y="214.8" width="3" height="16.8" fill="#26a69a"/><rect x="505" y="216.0" width="3" height="10.1" fill="#ef5350"/><rect x="509" y="224.9" width="3" height="13.4" fill="#ef5350"/><rect x="512" y="235.0" width="3" height="3.7" fill="#26a69a"/><rect x="516" y="235.9" width="3" height="12.0" fill="#ef5350"/><rect x="519" y="245.8" width="3" height="11.6" fill="#ef5350"/><rect x="523" y="258.0" width="3" height="2.0" fill="#ef5350"/><rect x="527" y="243.8" width="3" height="15.2" fill="#26a69a"/><rect x="530" y="243.2" width="3" height="43.8" fill="#ef5350"/><rect x="534" y="287.0" width="3" height="13.6" fill="#ef5350"/><rect x="538" y="265.1" width="3" height="34.5" fill="#26a69a"/><rect x="541" y="260.0" width="3" height="7.1" fill="#ef5350"/><rect x="545" y="258.0" width="3" height="9.5" fill="#26a69a"/><rect x="548" y="258.2" width="3" height="3.9" fill="#ef5350"/><rect x="552" y="247.1" width="3" height="15.8" fill="#26a69a"/><rect x="556" y="209.0" width="3" height="39.8" fill="#26a69a"/><rect x="559" y="200.9" width="3" height="9.1" fill="#26a69a"/><rect x="563" y="172.5" width="3" height="28.4" fill="#26a69a"/><rect x="566" y="149.5" width="3" height="24.4" fill="#26a69a"/><rect x="570" y="93.9" width="3" height="56.8" fill="#26a69a"/><rect x="574" y="94.8" width="3" height="16.8" fill="#ef5350"/><rect x="577" y="109.6" width="3" height="7.5" fill="#ef5350"/><rect x="581" y="116.7" width="3" height="13.2" fill="#ef5350"/><rect x="584" y="129.3" width="3" height="40.6" fill="#ef5350"/><rect x="588" y="169.0" width="3" height="27.8" fill="#ef5350"/><rect x="592" y="195.8" width="3" height="5.7" fill="#ef5350"/><rect x="595" y="200.9" width="3" height="14.2" fill="#ef5350"/><rect x="599" y="183.2" width="3" height="31.0" fill="#26a69a"/><rect x="603" y="167.0" width="3" height="16.6" fill="#26a69a"/><rect x="606" y="167.0" width="3" height="57.8" fill="#ef5350"/><rect x="610" y="204.3" width="3" height="21.0" fill="#26a69a"/><rect x="613" y="203.0" width="3" height="6.1" fill="#ef5350"/><rect x="617" y="208.1" width="3" height="18.3" fill="#ef5350"/><rect x="621" y="226.4" width="3" height="32.9" fill="#ef5350"/><rect x="624" y="257.6" width="3" height="1.0" fill="#26a69a"/><rect x="628" y="244.6" width="3" height="14.2" fill="#26a69a"/><rect x="631" y="230.0" width="3" height="15.0" fill="#26a69a"/><rect x="635" y="230.0" width="3" height="16.2" fill="#ef5350"/><rect x="639" y="245.7" width="3" height="10.8" fill="#ef5350"/><rect x="642" y="255.8" width="3" height="16.2" fill="#ef5350"/><rect x="646" y="264.5" width="3" height="7.5" fill="#26a69a"/><rect x="650" y="264.5" width="3" height="4.5" fill="#ef5350"/><rect x="653" y="262.9" width="3" height="5.7" fill="#26a69a"/><rect x="657" y="250.7" width="3" height="13.8" fill="#26a69a"/><rect x="660" y="244.6" width="3" height="6.1" fill="#26a69a"/><rect x="664" y="245.0" width="3" height="5.7" fill="#ef5350"/><rect x="668" y="241.0" width="3" height="8.1" fill="#26a69a"/><rect x="671" y="239.8" width="3" height="13.4" fill="#ef5350"/><rect x="675" y="252.4" width="3" height="4.1" fill="#ef5350"/><rect x="678" y="255.8" width="3" height="45.7" fill="#ef5350"/><rect x="682" y="300.4" width="3" height="12.8" fill="#ef5350"/><rect x="686" y="301.9" width="3" height="9.7" fill="#26a69a"/><rect x="689" y="284.2" width="3" height="18.9" fill="#26a69a"/><rect x="693" y="254.4" width="3" height="30.4" fill="#26a69a"/><rect x="696" y="254.4" width="3" height="20.3" fill="#ef5350"/><rect x="700" y="274.1" width="3" height="33.9" fill="#ef5350"/><rect x="704" y="291.7" width="3" height="15.8" fill="#26a69a"/><rect x="707" y="290.9" width="3" height="26.4" fill="#ef5350"/><rect x="711" y="315.7" width="3" height="25.2" fill="#ef5350"/><rect x="715" y="339.9" width="3" height="16.6" fill="#ef5350"/><rect x="718" y="354.1" width="3" height="3.4" fill="#ef5350"/><rect x="722" y="337.2" width="3" height="19.7" fill="#26a69a"/><rect x="725" y="337.9" width="3" height="8.9" fill="#ef5350"/><rect x="729" y="345.4" width="3" height="2.0" fill="#26a69a"/><rect x="733" y="346.8" width="3" height="34.1" fill="#ef5350"/><rect x="736" y="379.9" width="3" height="11.2" fill="#ef5350"/><rect x="740" y="385.9" width="3" height="2.6" fill="#ef5350"/><rect x="743" y="386.6" width="3" height="2.8" fill="#26a69a"/><rect x="747" y="385.9" width="3" height="18.5" fill="#ef5350"/><rect x="751" y="404.5" width="3" height="21.9" fill="#ef5350"/><rect x="754" y="426.0" width="3" height="23.3" fill="#ef5350"/><rect x="758" y="447.7" width="3" height="13.2" fill="#ef5350"/><rect x="762" y="459.9" width="3" height="23.3" fill="#ef5350"/><rect x="765" y="482.2" width="3" height="8.7" fill="#ef5350"/><rect x="769" y="463.9" width="3" height="26.4" fill="#26a69a"/><rect x="772" y="463.7" width="3" height="2.0" fill="#ef5350"/><rect x="776" y="464.5" width="3" height="48.1" fill="#ef5350"/><rect x="780" y="511.2" width="3" height="4.5" fill="#ef5350"/><rect x="783" y="489.7" width="3" height="26.4" fill="#26a69a"/><rect x="787" y="467.4" width="3" height="23.9" fill="#26a69a"/><rect x="790" y="447.7" width="3" height="20.3" fill="#26a69a"/><rect x="794" y="447.5" width="3" height="2.4" fill="#ef5350"/><rect x="798" y="430.8" width="3" height="17.9" fill="#26a69a"/><rect x="801" y="419.3" width="3" height="12.8" fill="#26a69a"/><rect x="805" y="419.7" width="3" height="54.4" fill="#ef5350"/><rect x="809" y="473.1" width="3" height="16.6" fill="#ef5350"/><rect x="812" y="458.8" width="3" height="30.4" fill="#26a69a"/><rect x="816" y="459.3" width="3" height="12.2" fill="#ef5350"/><rect x="819" y="471.0" width="3" height="17.9" fill="#ef5350"/><rect x="823" y="487.3" width="3" height="2.0" fill="#26a69a"/><rect x="827" y="480.2" width="3" height="8.7" fill="#26a69a"/><rect x="830" y="446.3" width="3" height="34.9" fill="#26a69a"/><rect x="834" y="446.3" width="3" height="34.5" fill="#ef5350"/><rect x="837" y="480.2" width="3" height="22.3" fill="#ef5350"/><rect x="841" y="493.8" width="3" height="8.7" fill="#26a69a"/><rect x="845" y="493.8" width="3" height="3.2" fill="#ef5350"/><rect x="848" y="479.1" width="3" height="14.2" fill="#26a69a"/><rect x="852" y="478.7" width="3" height="8.1" fill="#ef5350"/><rect x="855" y="483.2" width="3" height="1.6" fill="#26a69a"/><rect x="859" y="463.3" width="3" height="22.3" fill="#26a69a"/><rect x="863" y="391.4" width="3" height="71.9" fill="#26a69a"/><rect x="866" y="391.4" width="3" height="13.8" fill="#ef5350"/><rect x="870" y="404.8" width="3" height="20.7" fill="#ef5350"/><rect x="874" y="423.9" width="3" height="6.7" fill="#ef5350"/><rect x="877" y="429.6" width="3" height="27.4" fill="#ef5350"/><rect x="881" y="452.9" width="3" height="2.0" fill="#26a69a"/><rect x="884" y="433.2" width="3" height="22.3" fill="#26a69a"/><rect x="888" y="343.3" width="3" height="88.7" fill="#26a69a"/><rect x="892" y="342.3" width="3" height="34.5" fill="#ef5350"/><rect x="895" y="374.8" width="3" height="3.0" fill="#ef5350"/><rect x="899" y="361.6" width="3" height="15.6" fill="#26a69a"/><rect x="902" y="340.7" width="3" height="21.9" fill="#26a69a"/><rect x="906" y="326.5" width="3" height="14.8" fill="#26a69a"/><rect x="910" y="326.5" width="3" height="18.9" fill="#ef5350"/><rect x="913" y="329.9" width="3" height="17.2" fill="#26a69a"/><rect x="917" y="300.4" width="3" height="29.0" fill="#26a69a"/><rect x="921" y="291.7" width="3" height="8.7" fill="#26a69a"/><rect x="924" y="264.9" width="3" height="28.0" fill="#26a69a"/><rect x="928" y="263.7" width="3" height="1.6" fill="#26a69a"/><rect x="931" y="265.3" width="3" height="27.6" fill="#ef5350"/><rect x="935" y="257.8" width="3" height="36.5" fill="#26a69a"/><rect x="939" y="261.9" width="3" height="27.0" fill="#ef5350"/><rect x="942" y="288.3" width="3" height="17.2" fill="#ef5350"/><rect x="946" y="303.9" width="3" height="15.4" fill="#ef5350"/><rect x="949" y="304.5" width="3" height="15.2" fill="#26a69a"/><rect x="953" y="303.9" width="3" height="19.9" fill="#ef5350"/><rect x="957" y="321.3" width="3" height="2.8" fill="#26a69a"/><rect x="960" y="317.7" width="3" height="2.4" fill="#26a69a"/><rect x="964" y="295.8" width="3" height="22.3" fill="#26a69a"/><rect x="967" y="236.1" width="3" height="60.3" fill="#26a69a"/><rect x="971" y="236.9" width="3" height="36.1" fill="#ef5350"/><rect x="975" y="271.4" width="3" height="13.8" fill="#ef5350"/><rect x="978" y="249.7" width="3" height="33.5" fill="#26a69a"/><rect x="982" y="249.1" width="3" height="39.2" fill="#ef5350"/><rect x="986" y="267.4" width="3" height="20.9" fill="#26a69a"/><rect x="989" y="264.9" width="3" height="3.0" fill="#26a69a"/><rect x="993" y="261.9" width="3" height="7.1" fill="#ef5350"/><rect x="996" y="253.8" width="3" height="14.2" fill="#26a69a"/><rect x="1000" y="223.9" width="3" height="30.4" fill="#26a69a"/><rect x="1004" y="224.8" width="3" height="26.4" fill="#ef5350"/><rect x="1007" y="249.7" width="3" height="1.4" fill="#ef5350"/><rect x="1011" y="250.3" width="3" height="3.4" fill="#ef5350"/><rect x="1014" y="252.8" width="3" height="43.6" fill="#ef5350"/><rect x="1018" y="276.7" width="3" height="19.7" fill="#26a69a"/><rect x="1022" y="270.0" width="3" height="7.5" fill="#26a69a"/><rect x="1025" y="255.8" width="3" height="15.2" fill="#26a69a"/><rect x="1029" y="242.6" width="3" height="14.2" fill="#26a69a"/><rect x="1033" y="244.2" width="3" height="14.6" fill="#ef5350"/><rect x="1036" y="245.7" width="3" height="13.6" fill="#26a69a"/><rect x="1040" y="239.0" width="3" height="8.7" fill="#26a69a"/><rect x="1043" y="239.0" width="3" height="5.3" fill="#ef5350"/><rect x="1047" y="241.6" width="3" height="11.6" fill="#ef5350"/><rect x="1051" y="251.7" width="3" height="36.5" fill="#ef5350"/><rect x="1054" y="271.4" width="3" height="16.8" fill="#26a69a"/><rect x="1058" y="259.9" width="3" height="13.2" fill="#26a69a"/><rect x="1061" y="259.9" width="3" height="2.6" fill="#ef5350"/><rect x="1065" y="258.8" width="3" height="3.7" fill="#26a69a"/><rect x="1069" y="259.9" width="3" height="9.1" fill="#ef5350"/><rect x="1072" y="253.8" width="3" height="15.2" fill="#26a69a"/><rect x="1076" y="253.2" width="3" height="6.7" fill="#ef5350"/><rect x="1079" y="259.9" width="3" height="2.0" fill="#ef5350"/><rect x="1083" y="259.9" width="3" height="1.6" fill="#26a69a"/><rect x="1087" y="259.9" width="3" height="4.1" fill="#ef5350"/><rect x="1090" y="262.9" width="3" height="5.1" fill="#ef5350"/><rect x="1094" y="245.7" width="3" height="22.9" fill="#26a69a"/><rect x="1098" y="245.0" width="3" height="47.3" fill="#ef5350"/><rect x="1101" y="289.7" width="3" height="40.2" fill="#ef5350"/><rect x="1105" y="303.9" width="3" height="26.0" fill="#26a69a"/><rect x="1108" y="292.3" width="3" height="11.6" fill="#26a69a"/><rect x="1112" y="291.7" width="3" height="5.3" fill="#ef5350"/><rect x="1116" y="291.7" width="3" height="4.7" fill="#26a69a"/><rect x="1119" y="290.3" width="3" height="2.0" fill="#26a69a"/><rect x="1123" y="290.9" width="3" height="15.6" fill="#ef5350"/><rect x="1126" y="305.5" width="3" height="11.8" fill="#ef5350"/><rect x="1130" y="302.5" width="3" height="15.2" fill="#26a69a"/><rect x="1134" y="301.9" width="3" height="1.6" fill="#ef5350"/><rect x="1137" y="302.5" width="3" height="2.6" fill="#ef5350"/><rect x="1141" y="292.9" width="3" height="11.6" fill="#26a69a"/><rect x="1145" y="286.9" width="3" height="7.5" fill="#26a69a"/><rect x="1148" y="278.7" width="3" height="8.9" fill="#26a69a"/><rect x="1152" y="274.1" width="3" height="5.5" fill="#26a69a"/><rect x="1155" y="269.0" width="3" height="2.0" fill="#26a69a"/><rect x="1159" y="269.0" width="3" height="2.0" fill="#26a69a"/><rect x="1163" y="269.0" width="3" height="9.1" fill="#ef5350"/><rect x="1166" y="277.5" width="3" height="15.8" fill="#ef5350"/><rect x="1170" y="280.8" width="3" height="11.6" fill="#26a69a"/><rect x="1173" y="265.3" width="3" height="16.8" fill="#26a69a"/><rect x="1177" y="259.8" width="3" height="5.5" fill="#26a69a"/><rect x="1181" y="249.7" width="3" height="10.6" fill="#26a69a"/><rect x="1184" y="219.6" width="3" height="30.8" fill="#26a69a"/><rect x="1188" y="200.4" width="3" height="20.9" fill="#26a69a"/><rect x="1191" y="200.4" width="3" height="18.9" fill="#ef5350"/><rect x="1195" y="218.6" width="3" height="8.1" fill="#ef5350"/><rect x="1199" y="223.3" width="3" height="2.8" fill="#26a69a"/><rect x="1202" y="223.3" width="3" height="18.7" fill="#ef5350"/><rect x="1206" y="240.3" width="3" height="7.3" fill="#ef5350"/><rect x="1210" y="247.0" width="3" height="5.1" fill="#ef5350"/><rect x="1213" y="251.7" width="3" height="3.4" fill="#ef5350"/><rect x="1217" y="228.8" width="3" height="25.8" fill="#26a69a"/><rect x="1220" y="228.8" width="3" height="51.7" fill="#ef5350"/><rect x="1224" y="280.1" width="3" height="21.7" fill="#ef5350"/></g><path d="M8.0 493.8C11.4 495.4 22.6 500.5 28.3 503.3C34.0 506.1 37.4 507.3 42.5 510.4C47.6 513.4 53.3 518.0 58.7 521.6C64.1 525.2 69.9 528.5 75.0 531.7C80.1 534.9 85.2 538.5 89.2 540.9C93.2 543.3 94.2 543.5 99.3 545.9C104.4 548.3 112.8 552.4 119.6 555.1C126.4 557.8 133.1 560.4 139.9 562.2C146.7 564.1 153.4 564.8 160.2 566.2C167.0 567.7 173.7 569.6 180.5 570.9C187.3 572.2 194.0 572.4 200.8 573.8C207.6 575.2 214.3 577.4 221.1 579.4C227.9 581.4 234.6 583.3 241.4 585.5C248.2 587.7 257.0 591.3 261.7 592.6C266.4 593.9 266.4 593.2 269.8 593.2C273.2 593.2 278.3 592.8 281.9 592.6C285.4 592.4 288.4 592.3 291.1 592.2C293.8 592.1 295.1 592.3 298.0 592.0C300.9 591.7 304.0 591.3 308.7 590.5C313.4 589.7 321.0 588.2 326.3 587.0C331.6 585.8 334.5 585.0 340.4 583.4C346.3 581.8 354.5 579.5 361.5 577.5C368.5 575.5 375.6 573.1 382.6 571.1C389.6 569.1 396.7 567.4 403.7 565.8C410.7 564.2 417.8 562.8 424.8 561.3C431.8 559.8 439.4 558.9 445.9 557.0C452.3 555.1 457.6 552.5 463.5 550.0C469.4 547.5 475.2 545.5 481.1 542.3C487.0 539.1 492.8 534.7 498.7 530.7C504.6 526.7 510.4 522.6 516.3 518.3C522.2 514.0 528.6 509.7 533.9 505.0C539.2 500.3 542.1 496.0 548.0 490.2C553.9 484.4 564.0 475.4 569.0 470.4C574.0 465.4 575.0 463.0 578.0 460.0C581.0 457.0 580.6 458.0 586.7 452.2C592.8 446.4 607.2 431.7 614.8 425.1C622.4 418.5 626.5 416.9 632.4 412.8C638.3 408.7 644.1 404.3 650.0 400.5C655.9 396.7 661.3 393.1 667.6 389.9C673.9 386.7 681.7 383.6 687.6 381.1C693.5 378.6 698.8 376.2 702.8 374.8C706.8 373.4 708.9 373.2 711.8 372.8C714.7 372.4 716.9 372.8 720.0 372.3C723.1 371.8 725.5 370.2 730.6 369.7C735.8 369.2 744.1 369.3 750.9 369.1C757.7 368.9 764.4 369.0 771.2 368.7C778.0 368.4 785.8 367.7 791.5 367.1C797.2 366.5 800.6 365.4 805.7 365.0C810.8 364.6 816.8 364.5 821.9 364.6C827.0 364.7 831.4 365.2 836.1 365.7C840.8 366.2 843.0 367.3 850.0 367.8C857.0 368.3 871.7 368.9 878.0 368.8C884.3 368.7 884.1 367.9 887.8 367.1C891.5 366.4 896.1 365.2 900.3 364.3C904.5 363.4 908.7 362.7 912.9 361.5C917.1 360.3 921.5 358.6 925.5 357.3C929.5 356.0 933.0 354.9 936.7 353.6C940.4 352.3 943.7 351.1 947.9 349.7C952.1 348.3 957.2 346.5 961.9 345.0C966.6 343.5 970.5 342.4 975.9 340.6C981.3 338.8 988.3 336.1 994.1 334.3C999.9 332.6 1005.7 331.2 1010.8 330.1C1015.9 329.1 1018.3 329.1 1024.8 328.0C1031.3 326.9 1043.8 324.9 1050.0 323.8C1056.2 322.7 1056.9 322.2 1062.3 321.3C1067.7 320.4 1077.2 318.8 1082.6 318.1C1088.0 317.4 1091.9 317.5 1094.8 317.3C1097.7 317.1 1097.0 317.1 1100.0 317.0C1103.0 316.9 1109.7 316.8 1113.1 316.7C1116.5 316.6 1115.7 316.8 1120.3 316.6C1124.9 316.4 1133.8 316.1 1140.6 315.4C1147.4 314.7 1154.1 313.7 1160.9 312.6C1167.7 311.5 1174.4 310.0 1181.2 308.9C1188.0 307.8 1196.1 306.6 1201.5 305.9C1206.9 305.2 1209.7 304.7 1213.6 304.5C1217.5 304.3 1222.9 304.5 1224.8 304.5" fill="none" stroke="#2b5fe0" stroke-width="1.1" stroke-linejoin="round"/><path d="M23.5 683.0C24.9 679.9 28.5 672.5 31.8 664.6C35.1 656.7 38.6 645.9 43.1 635.4C47.6 624.9 54.4 610.1 58.7 601.8C63.0 593.5 65.9 589.9 68.9 585.5C72.0 581.1 73.6 579.4 77.0 575.4C80.4 571.4 85.5 566.3 89.2 561.2C92.9 556.1 95.9 551.0 99.3 544.9C102.7 538.8 106.1 531.0 109.5 524.6C112.9 518.2 116.2 511.8 119.6 506.4C123.0 501.0 126.1 496.6 129.8 492.2C133.5 487.8 138.5 483.6 141.9 480.0C145.3 476.4 147.3 472.8 150.0 470.7C152.7 468.6 154.8 468.3 158.2 467.7C161.6 467.1 166.6 466.7 170.3 467.1C174.0 467.5 177.1 469.0 180.5 470.1C183.9 471.2 186.9 471.8 190.6 473.8C194.3 475.8 199.4 479.9 202.8 481.9C206.2 483.9 207.9 484.6 210.9 485.6C213.9 486.6 217.7 487.3 221.1 488.0C224.5 488.7 227.8 488.9 231.2 489.6C234.6 490.3 238.3 491.3 241.4 492.0C244.5 492.7 246.1 494.0 249.5 493.7C252.9 493.4 258.0 491.3 261.7 490.4C265.4 489.4 268.4 488.7 271.8 488.0C275.2 487.3 277.5 487.1 281.9 486.4C286.3 485.7 292.4 484.4 298.0 483.9C303.6 483.4 310.1 483.6 315.7 483.2C321.3 482.8 326.4 483.6 331.6 481.4C336.8 479.2 342.2 473.6 346.8 470.0C351.4 466.4 355.3 463.0 359.0 460.0C362.7 457.0 365.1 455.6 369.2 451.9C373.3 448.2 379.3 442.4 383.4 437.7C387.4 433.0 390.1 428.2 393.5 423.5C396.9 418.8 400.3 413.5 403.7 409.3C407.1 405.1 410.8 401.8 413.8 398.1C416.8 394.4 419.2 390.2 421.9 387.0C424.6 383.8 427.3 381.2 430.0 378.8C432.7 376.4 434.8 374.5 438.2 372.8C441.6 371.1 446.6 370.1 450.3 368.7C454.0 367.3 457.1 366.0 460.5 364.6C463.9 363.2 467.2 362.0 470.6 360.6C474.0 359.2 477.1 357.9 480.8 356.5C484.5 355.1 488.6 355.2 493.0 352.5C497.4 349.8 503.1 343.3 507.2 340.3C511.2 337.3 513.9 336.6 517.3 334.6C520.7 332.6 522.5 331.1 527.4 328.5C532.2 325.9 542.3 321.1 546.4 319.1C550.5 317.2 549.5 318.1 551.8 316.8C554.1 315.5 557.1 313.6 560.0 311.1C562.9 308.6 566.2 305.1 569.2 301.6C572.2 298.2 574.7 293.6 578.2 290.4C581.7 287.2 585.7 285.7 590.0 282.4C594.3 279.1 599.3 274.6 604.0 270.5C608.7 266.4 614.3 261.2 618.0 257.9C621.7 254.6 622.9 253.7 626.4 250.9C629.9 248.1 634.6 244.2 639.0 241.2C643.4 238.2 648.1 235.2 653.0 232.8C657.9 230.4 664.5 227.8 668.3 226.5C672.1 225.2 673.5 224.7 675.8 224.8C678.1 225.0 679.5 226.5 681.9 227.4C684.3 228.3 687.0 229.6 690.0 230.4C693.0 231.2 696.8 231.3 700.2 232.1C703.6 232.8 706.9 233.8 710.3 234.9C713.7 236.0 717.2 237.3 720.5 238.6C723.8 239.9 727.2 241.1 729.9 242.6C732.6 244.1 734.6 245.1 736.9 247.4C739.2 249.7 741.5 253.1 743.8 256.5C746.1 259.9 748.5 264.0 750.8 267.7C753.1 271.4 755.0 273.9 757.8 278.9C760.6 283.9 763.7 291.1 767.6 297.9C771.5 304.7 777.4 313.7 781.4 319.7C785.4 325.7 787.8 329.0 791.5 333.9C795.2 338.8 799.7 343.3 803.7 348.8C807.8 354.3 811.1 361.0 815.8 366.7C820.5 372.4 827.3 377.5 832.0 382.9C836.7 388.3 840.1 393.7 844.2 399.1C848.3 404.5 852.3 411.2 856.4 415.4C860.5 419.6 864.5 421.3 868.6 424.5C872.7 427.7 877.3 432.2 880.7 434.7C884.1 437.2 885.5 438.6 888.9 439.7C892.3 440.8 897.0 441.2 901.0 441.3C905.0 441.4 909.5 441.0 913.2 440.1C916.9 439.2 920.0 437.6 923.4 435.7C926.8 433.8 929.8 431.7 933.5 428.6C937.2 425.6 941.6 421.5 945.7 417.4C949.8 413.3 953.9 408.8 957.9 404.2C961.9 399.6 966.3 394.1 970.0 390.0C973.7 385.9 974.1 386.6 980.0 379.9C985.9 373.2 999.9 356.6 1005.5 350.0C1011.1 343.4 1010.9 343.4 1013.6 340.0C1016.3 336.6 1018.6 333.6 1021.8 329.9C1025.0 326.2 1029.0 321.7 1032.7 317.9C1036.4 314.1 1040.2 310.9 1043.9 307.3C1047.6 303.7 1051.4 299.8 1055.1 296.1C1058.8 292.4 1062.8 287.8 1066.3 284.9C1069.8 282.0 1072.8 280.5 1076.1 278.6C1079.4 276.7 1082.9 275.1 1085.9 273.7C1088.9 272.3 1092.0 270.9 1094.3 270.4C1096.6 269.9 1096.7 270.4 1099.9 270.7C1103.2 271.0 1109.2 271.8 1113.8 272.1C1118.4 272.4 1123.1 272.4 1127.8 272.3C1132.5 272.2 1136.4 271.8 1141.8 271.6C1147.2 271.4 1154.7 270.6 1160.0 270.9C1165.3 271.1 1170.1 272.8 1173.9 273.1C1177.7 273.5 1179.8 273.3 1182.7 273.0C1185.6 272.7 1188.2 272.2 1191.3 271.4C1194.4 270.6 1197.8 269.0 1201.5 268.3C1205.2 267.6 1210.2 267.4 1213.6 267.3C1217.0 267.2 1220.4 267.8 1221.8 267.9" fill="none" stroke="#d4c232" stroke-width="1.0" stroke-linejoin="round"/><rect x="939.5" y="334.70" width="434.5" height="5.30" fill="#42444f"/><rect x="939.5" y="334.70" width="434.5" height="1.3" fill="#95969e"/><rect x="939.5" y="338.70" width="434.5" height="1.3" fill="#95969e"/><rect x="939.5" y="334.70" width="1.1" height="5.30" fill="#95969e"/><rect x="748.0" y="516.70" width="626.0" height="8.40" fill="#42444f"/><rect x="748.0" y="516.70" width="626.0" height="1.3" fill="#5c5e69"/><rect x="748.0" y="523.80" width="626.0" height="1.3" fill="#e6e6ea"/><rect x="748.0" y="516.70" width="1.1" height="8.40" fill="#d0d1d8"/><rect x="73.0" y="614.00" width="1301.0" height="9.30" fill="#42444f"/><rect x="73.0" y="614.00" width="1301.0" height="1.3" fill="#e0e0e4"/><rect x="73.0" y="622.00" width="1301.0" height="1.3" fill="#e0e0e4"/><rect x="73.0" y="614.00" width="1.1" height="9.30" fill="#d0d1d8"/><line x1="563.0" y1="89.1" x2="1374.0" y2="89.1" stroke="#ffffff" stroke-width="2.2"/><line x1="599.0" y1="145.1" x2="1374.0" y2="145.1" stroke="#ffffff" stroke-width="2.2"/><line x1="1185.0" y1="185.1" x2="1374.0" y2="185.1" stroke="#ffffff" stroke-width="2.2"/><line x1="1141.0" y1="259.9" x2="1374.0" y2="259.9" stroke="#ffffff" stroke-width="2.2"/><line x1="8.0" y1="360.0" x2="1374.0" y2="360.0" stroke="#ffffff" stroke-width="4.2"/><line x1="791.0" y1="406.3" x2="1374.0" y2="406.3" stroke="#ffffff" stroke-width="3.0"/><line x1="844.6" y1="464.9" x2="1374.0" y2="464.9" stroke="#ffffff" stroke-width="2.4"/><line x1="226.0" y1="631.6" x2="1353.8" y2="423.4" stroke="#4dd0e1" stroke-width="3.3" stroke-linecap="round"/><line x1="835.5" y1="520.5" x2="1289.3" y2="222.8" stroke="#a57fd6" stroke-width="2.5" stroke-linecap="round"/><line x1="564.0" y1="87.2" x2="1358.3" y2="212.9" stroke="#f29ba4" stroke-width="2.6" stroke-linecap="round"/><line x1="564.0" y1="85.6" x2="1326.5" y2="298.6" stroke="#f4ec6a" stroke-width="2.5" stroke-linecap="round"/><line x1="568.0" y1="75.6" x2="1029.9" y2="675.4" stroke="#e8407c" stroke-width="3.3" stroke-linecap="round"/></g></svg>
<svg style="position:absolute;left:1214px;top:660px" width="24" height="24" viewBox="0 0 24 24"><circle cx="11.8" cy="11.9" r="8.6" fill="none" stroke="#d6d7de" stroke-width="1.3"/><path d="M4.2 8.5A8.6 8.6 0 0 1 9 3.8" fill="none" stroke="#b44fd0" stroke-width="1.3"/><path d="M9.5 15.5L14.5 8.5M8.5 11.5L14.8 8.2L13.2 14.5" fill="none" stroke="#c9cad2" stroke-width="1.1"/></svg>
<div class="t" id="pub">dacolmanfx published on TradingView.com, Mar 23, 2024 12:55 UTC-4</div>
<div class="t" id="leg"><span style="left:16px">British Pound / U.S. Dollar, 1D, ICE</span><span style="left:186.5px">O<b>1.2656</b></span><span style="left:231.6px">H<b>1.2675</b></span><span style="left:276.3px">L<b>1.2576</b></span><span style="left:319.6px">C<b>1.2601</b></span><span style="left:363.9px"><b>−0.0056 (−0.44%)</b></span></div>
<div class="pl" style="top:24.4px">1.3300</div>
<div class="pl" style="top:62.3px">1.3200</div>
<div class="pl" style="top:100.5px">1.3100</div>
<div class="pl" style="top:178.3px">1.2900</div>
<div class="pl" style="top:217.2px">1.2800</div>
<div class="pl" style="top:256.5px">1.2700</div>
<div class="pl" style="top:335.6px">1.2500</div>
<div class="pl" style="top:375.9px">1.2400</div>
<div class="pl" style="top:417.1px">1.2300</div>
<div class="pl" style="top:458.0px">1.2200</div>
<div class="pl" style="top:499.2px">1.2100</div>
<div class="pl" style="top:533.2px">1.2020</div>
<div class="pl" style="top:566.2px">1.1940</div>
<div class="pl" style="top:600.2px">1.1860</div>
<div class="pl" style="top:629.5px">1.1790</div>
<div class="pl" style="top:657.4px">1.1725</div>
<div class="tlab" style="left:73px">2023</div>
<div class="tlab" style="left:152px">Feb</div>
<div class="tlab" style="left:225px">Mar</div>
<div class="tlab" style="left:308px">Apr</div>
<div class="tlab" style="left:380px">May</div>
<div class="tlab" style="left:463px">Jun</div>
<div class="tlab" style="left:544px">Jul</div>
<div class="tlab" style="left:618px">Aug</div>
<div class="tlab" style="left:700px">Sep</div>
<div class="tlab" style="left:778px">Oct</div>
<div class="tlab" style="left:856px">Nov</div>
<div class="tlab" style="left:937px">Dec</div>
<div class="tlab" style="left:1013px">2024</div>
<div class="tlab" style="left:1096px">Feb</div>
<div class="tlab" style="left:1172px">Mar</div>
<div class="tlab" style="left:1247px">Apr</div>
<div class="tlab" style="left:1327px">May</div>
<div class="tag wt" style="top:137.5px;height:15.5px;line-height:15.5px">1.3000</div>
<div class="tag wt" style="top:352.4px;height:15.8px;line-height:15.8px">1.2455</div>
<div class="tag rd" style="top:294px;height:16px;line-height:16px;left:1327px;width:46px"><span style="display:inline-block;font-size:10.5px;letter-spacing:0;transform:scaleX(0.85)">GBPUSD</span></div>
<div class="tag rd" style="top:294px;height:16px;line-height:16px;left:1374px;width:43px;text-align:left;padding-left:7px">1.2601</div>
<div class="ann" style="left:552px;top:56px">2023 highs (July)</div>
<div class="ann" style="left:754px;top:542px">October 2022 lows</div>
<div class="ann" style="left:187px;top:636px">2023 lows (March)</div>
<svg style="position:absolute;left:9px;top:718px" width="18" height="10" viewBox="0 0 36 20"><path fill="#d1d4dc" d="M14 20H7V7H0V0h14v20zM21.5 0a3.5 3.5 0 1 1 0 7 3.5 3.5 0 0 1 0-7zM28 20h-8l8-20h8l-8 20z"/></svg>
<div id="tv">TradingView</div>
<div id="wm1">海马财经</div>
<div id="wm2">zzrt01.cn</div>
</body></html>
